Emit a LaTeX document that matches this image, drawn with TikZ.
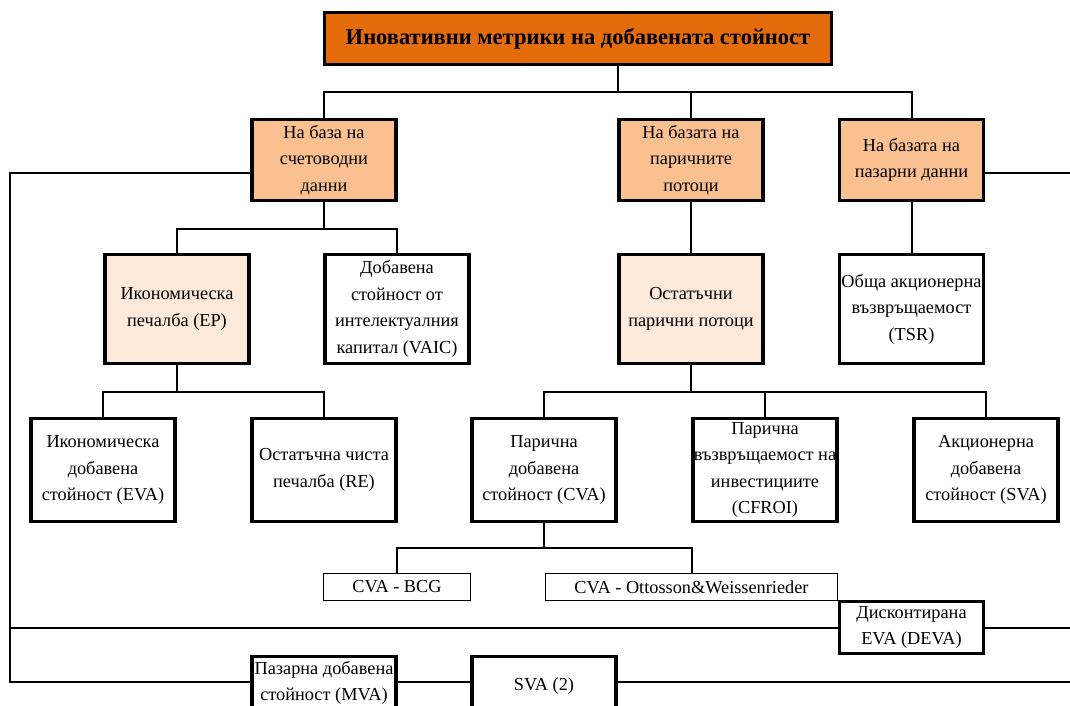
\documentclass[tikz,border=0pt]{standalone}
\usepackage{fontspec}
\setmainfont{Liberation Serif}
\usetikzlibrary{positioning}
\definecolor{titlefill}{HTML}{E46C0A}
\definecolor{groupfill}{HTML}{FAC090}
\definecolor{lightfill}{HTML}{FDE9D9}

\begin{document}
\begin{tikzpicture}[
  x=1pt,y=-1pt,
  box/.style={draw,line width=3.3pt,align=center,inner xsep=0pt,inner ysep=0pt,minimum width=144pt,font=\fontsize{18.3}{26.5}\selectfont},
  titlebox/.style={box,fill=titlefill,minimum width=507pt,minimum height=52pt,font=\fontsize{22.5}{27}\selectfont\bfseries},
  groupbox/.style={box,fill=groupfill,minimum height=81pt},
  midbox/.style={box,minimum height=109pt},
  leafbox/.style={box,minimum height=103pt},
  smallbox/.style={box,line width=1.3pt,minimum height=27pt},
  openbox/.style={box,anchor=north,text depth=40pt},
  line/.style={line width=2pt}
]
  \useasboundingbox (0,0) rectangle (1070,705);
  \clip (0,0) rectangle (1070,705);

  \node[titlebox] (title) at (578,38.5) {Иновативни метрики на добавената стойност};

  \node[groupbox] (acc) at (324,160) {На база на\\счетоводни\\данни};
  \node[groupbox] (cash) at (691,160) {На базата на\\паричните\\потоци};
  \node[groupbox] (mkt) at (911.5,160) {На базата на\\пазарни данни};

  \node[midbox,fill=lightfill] (ep) at (177,309) {Икономическа\\печалба (EP)};
  \node[midbox] (vaic) at (397,309) {Добавена\\стойност от\\интелектуалния\\капитал (VAIC)};
  \node[midbox,fill=lightfill] (rcf) at (691,309) {Остатъчни\\парични потоци};
  \node[midbox] (tsr) at (911.5,309) {Обща акционерна\\възвръщаемост\\(TSR)};

  \node[leafbox] (eva) at (103,470) {Икономическа\\добавена\\стойност (EVA)};
  \node[leafbox] (re) at (324,470) {Остатъчна чиста\\печалба (RE)};
  \node[leafbox] (cva) at (544,470) {Парична\\добавена\\стойност (CVA)};
  \node[leafbox] (cfroi) at (765,470) {Парична\\възвръщаемост на\\инвестициите\\(CFROI)};
  \node[leafbox] (sva) at (986,470) {Акционерна\\добавена\\стойност (SVA)};

  \node[smallbox,minimum width=146.7pt] (bcg) at (397,587) {CVA - BCG};
  \node[smallbox,minimum width=291.7pt] (ow) at (691.5,587) {CVA - Ottosson\&Weissenrieder};
  \node[box,minimum height=52pt] (deva) at (911.5,627.5) {Дисконтирана\\EVA (DEVA)};
  \node[openbox,inner ysep=5pt] (mva) at (324,654.6) {Пазарна добавена\\стойност (MVA)};
  \node[openbox,inner ysep=22pt] (sva2) at (544,654.6) {SVA (2)};

  \coordinate (j0) at (618,92);
  \coordinate (lp1) at (10,173);
  \coordinate (lp2) at (10,682);
  \coordinate (redge) at (1075,0);

  \draw[line] (title.south -| j0) -- (j0);
  \draw[line] (acc.north) |- (j0) -| (mkt.north);
  \draw[line] (cash.north) -- (cash.north |- j0);

  \draw[line] (acc.south) -- ++(0,27) coordinate (j1);
  \draw[line] (ep.north) |- (j1) -| (vaic.north);
  \draw[line] (cash.south) -- (rcf.north);
  \draw[line] (mkt.south) -- (tsr.north);

  \draw[line] (ep.south) -- ++(0,27) coordinate (j2);
  \draw[line] (eva.north) |- (j2) -| (re.north);
  \draw[line] (rcf.south) -- ++(0,27) coordinate (j3);
  \draw[line] (cva.north) |- (j3) -| (sva.north);
  \draw[line] (cfroi.north) -- (cfroi.north |- j3);

  \draw[line] (cva.south) -- ++(0,25) coordinate (j4);
  \draw[line] (bcg.north) |- (j4) -| (ow.north);

  \draw[line] (acc.west |- lp1) -- (lp1) -- (lp2) -- (lp2 -| mva.west);
  \draw[line] (mkt.east |- lp1) -- (lp1 -| redge);
  \draw[line] (lp1 |- deva.west) -- (deva.west);
  \draw[line] (deva.east) -- (deva.east -| redge);
  \draw[line] (mva.east |- lp2) -- (lp2 -| sva2.west);
  \draw[line] (sva2.east |- lp2) -- (lp2 -| redge);
\end{tikzpicture}
\end{document}
